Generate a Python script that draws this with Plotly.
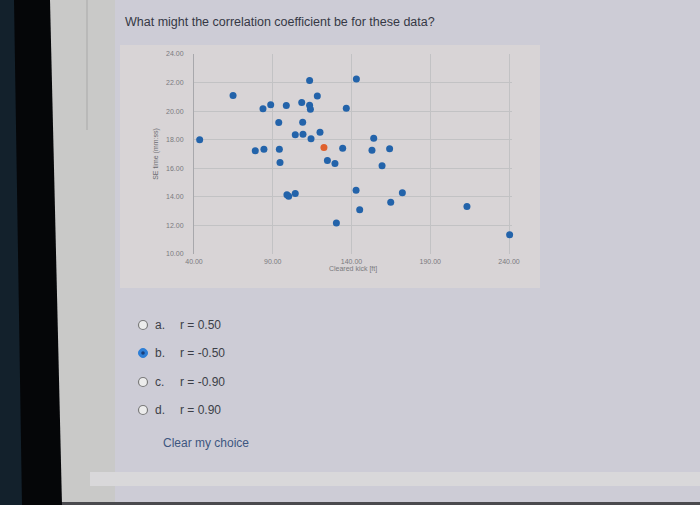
import plotly.graph_objects as go

# ---- data ----
x_vals = [43.6, 64.8, 83.8, 88.7, 98.6, 108.4, 113.4, 118.3, 113.4, 113.9,
          136.7, 143.1, 93.8, 109.0, 104.3, 109.2, 114.3, 120.0, 78.9, 84.4,
          94.2, 134.4, 94.6, 124.7, 129.5, 154.1, 153.0, 164.2, 159.4, 99.0,
          100.1, 104.3, 142.9, 145.2, 130.4, 164.9, 172.3, 213.3, 240.4]
y_vals = [18.0, 21.1, 20.16, 20.44, 20.39, 20.6, 22.14, 21.06, 20.41, 20.13,
          20.2, 22.25, 19.2, 19.22, 18.34, 18.39, 18.06, 18.53, 17.22, 17.34,
          17.34, 17.41, 16.41, 16.55, 16.34, 18.11, 17.27, 17.36, 16.17, 14.15,
          14.05, 14.24, 14.47, 13.1, 12.17, 13.63, 14.29, 13.33, 11.35]
hi_x = [122.5]
hi_y = [17.45]

x_ticks = [40, 90, 140, 190, 240]
y_ticks = [10, 12, 14, 16, 18, 20, 22, 24]

question = "What might the correlation coefficient be for these data?"
option_keys = ["a.", "b.", "c.", "d."]
option_texts = ["r = 0.50", "r = -0.50", "r = -0.90", "r = 0.90"]
selected = [False, True, False, False]
clear_text = "Clear my choice"

W, H = 700, 505
def px(x):
    return x / W
def py(y):
    return 1 - y / H

fig = go.Figure()
fig.add_trace(go.Scatter(x=x_vals, y=y_vals, mode="markers", cliponaxis=False,
                         marker=dict(color="#2363aa", size=7), showlegend=False,
                         hoverinfo="skip"))
fig.add_trace(go.Scatter(x=hi_x, y=hi_y, mode="markers", cliponaxis=False,
                         marker=dict(color="#e0602c", size=7), showlegend=False,
                         hoverinfo="skip"))

shapes = []
# page background pieces
shapes.append(dict(type="rect", xref="paper", yref="paper", x0=px(50), x1=px(115),
                   y0=0, y1=1, fillcolor="#c9c9c8", line_width=0, layer="below"))
# chart image box
shapes.append(dict(type="rect", xref="paper", yref="paper", x0=px(120), x1=px(540),
                   y0=py(288), y1=py(45), fillcolor="#d8d4d6", line_width=0, layer="below"))
# bottom lighter band
shapes.append(dict(type="rect", xref="paper", yref="paper", x0=px(90), x1=1,
                   y0=py(486), y1=py(472), fillcolor="#d9d8da", line_width=0, layer="below"))
shapes.append(dict(type="rect", xref="paper", yref="paper", x0=0, x1=1,
                   y0=0, y1=py(502), fillcolor="#4a4a4e", line_width=0, layer="below"))
# dark left edge (slanted)
shapes.append(dict(type="path", xref="paper", yref="paper",
                   path=f"M 0 1 L {px(50)} 1 L {px(62)} 0 L 0 0 Z",
                   fillcolor="#050608", line_width=0, layer="below"))
shapes.append(dict(type="path", xref="paper", yref="paper",
                   path=f"M 0 1 L {px(14)} 1 L {px(22)} 0 L 0 0 Z",
                   fillcolor="#13212c", line_width=0, layer="below"))
# faint vertical line at left
shapes.append(dict(type="line", xref="paper", yref="paper", x0=px(87), x1=px(87),
                   y0=py(130), y1=1, line=dict(color="#a9a9a9", width=1), layer="below"))

# radio buttons
radio_y = [325, 353, 382, 410]
for ry, sel in zip(radio_y, selected):
    r = 4.5
    if sel:
        shapes.append(dict(type="circle", xref="paper", yref="paper",
                           x0=px(143 - r), x1=px(143 + r), y0=py(ry + r), y1=py(ry - r),
                           fillcolor="#2f7fd6", line=dict(color="#2f7fd6", width=1)))
        shapes.append(dict(type="circle", xref="paper", yref="paper",
                           x0=px(143 - 1.8), x1=px(143 + 1.8), y0=py(ry + 1.8), y1=py(ry - 1.8),
                           fillcolor="#1b3f7a", line_width=0))
    else:
        shapes.append(dict(type="circle", xref="paper", yref="paper",
                           x0=px(143 - r), x1=px(143 + r), y0=py(ry + r), y1=py(ry - r),
                           fillcolor="#ececec", line=dict(color="#7a7a7a", width=1.2)))

annotations = []
annotations.append(dict(text=question, xref="paper", yref="paper", x=px(123), y=py(22),
                        xanchor="left", yanchor="middle", showarrow=False,
                        font=dict(family="Liberation Sans", size=12.5, color="#353845")))
for ry, k, t in zip(radio_y, option_keys, option_texts):
    annotations.append(dict(text=k, xref="paper", yref="paper", x=px(153), y=py(ry),
                            xanchor="left", yanchor="middle", showarrow=False,
                            font=dict(family="Liberation Sans", size=12, color="#3c3f48")))
    annotations.append(dict(text=t, xref="paper", yref="paper", x=px(178), y=py(ry),
                            xanchor="left", yanchor="middle", showarrow=False,
                            font=dict(family="Liberation Sans", size=12, color="#3c3f48")))
annotations.append(dict(text=clear_text, xref="paper", yref="paper", x=px(161), y=py(443),
                        xanchor="left", yanchor="middle", showarrow=False,
                        font=dict(family="Liberation Sans", size=12, color="#3d5680")))

fig.update_layout(
    width=W, height=H, margin=dict(l=0, r=0, t=0, b=0, autoexpand=False),
    paper_bgcolor="#cdccd6", plot_bgcolor="rgba(0,0,0,0)",
    shapes=shapes, annotations=annotations,
    xaxis=dict(domain=[px(194), px(512.15)], range=[40, 242], tickvals=x_ticks,
               tickformat=".2f", showgrid=True, gridcolor="#c2c2c4", gridwidth=1,
               zeroline=False, showline=False, automargin=False,
               tickfont=dict(family="Liberation Sans", size=7, color="#7a7a7e"),
               ticklabelstandoff=2,
               title=dict(text="Cleared kick [ft]", standoff=1,
                          font=dict(family="Liberation Sans", size=7, color="#7a7a7e"))),
    yaxis=dict(domain=[py(254), py(54)], range=[10, 24], tickvals=y_ticks,
               tickformat=".2f", showgrid=True, gridcolor="#c2c2c4", gridwidth=1,
               zeroline=False, showline=True, linecolor="#a8a8ac", linewidth=1,
               automargin=False,
               tickfont=dict(family="Liberation Sans", size=7, color="#7a7a7e"),
               ticklabelstandoff=8,
               title=dict(text="SE time (mm:ss)", standoff=6,
                          font=dict(family="Liberation Sans", size=7, color="#6a6a70"))),
)

fig.write_html("out.html", config={"responsive": False},
               post_script="document.body.style.margin='0';document.body.style.overflow='hidden';")
